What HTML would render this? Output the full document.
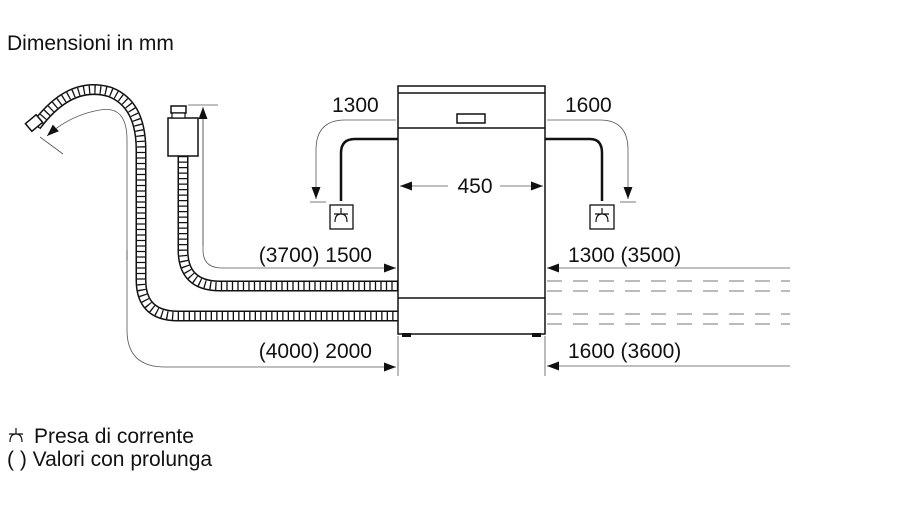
<!DOCTYPE html>
<html><head><meta charset="utf-8"><style>
html,body{margin:0;padding:0;background:#fff;}
svg{display:block;}
text{font-family:"Liberation Sans",sans-serif;fill:#111;}
</style></head><body>
<svg width="900" height="506" viewBox="0 0 900 506" xmlns="http://www.w3.org/2000/svg">
<defs>
<marker id="a" markerWidth="12" markerHeight="9" refX="12" refY="4.5" orient="auto" markerUnits="userSpaceOnUse"><path d="M0,0 L12,4.5 L0,9z" fill="#111"/></marker>
</defs>
<text x="7" y="50" font-size="21">Dimensioni in mm</text>

<g fill="none">
<path id="h1" d="M183,156 L183,250 Q183,286 220,286 L398,286"/>
<path id="h2" d="M36,126 Q70,80 110,92 Q141,104 141,150 L141,280 Q141,316 178,316 L398,316"/>
</g>
<use href="#h1" stroke="#111" stroke-width="11" fill="none"/>
<use href="#h1" stroke="#fff" stroke-width="8" fill="none"/>
<use href="#h1" stroke="#111" stroke-width="8" stroke-dasharray="1.3 4.2" fill="none"/>
<use href="#h2" stroke="#111" stroke-width="11" fill="none"/>
<use href="#h2" stroke="#fff" stroke-width="8" fill="none"/>
<use href="#h2" stroke="#111" stroke-width="8" stroke-dasharray="1.3 4.2" fill="none"/>
<rect x="27" y="118" width="14" height="10" fill="#fff" stroke="#111" stroke-width="1.5" transform="rotate(-40 34 123)"/>
<rect x="168" y="118" width="30" height="38" fill="#fff" stroke="#111" stroke-width="1.5"/>
<rect x="171" y="106" width="15" height="7" fill="#fff" stroke="#111" stroke-width="1.5"/>
<rect x="172" y="113" width="13" height="5" fill="#fff" stroke="#111" stroke-width="1.2"/>

<g stroke="#555" stroke-width="0.8" fill="none">
<line x1="188" y1="105" x2="218" y2="105"/>
<path d="M203,108 L203,250 Q203,268 222,268 L396,268" marker-end="url(#a)"/>
<path d="M203,245 L203,107" marker-end="url(#a)"/>
<line x1="40" y1="137" x2="63" y2="154"/>
<path d="M127,260 L127,140 Q127,105 100,110 Q70,115 47,136" marker-end="url(#a)"/>
<path d="M127,250 L127,330 Q127,367 165,367 L396,367" marker-end="url(#a)"/>
<line x1="398" y1="336" x2="398" y2="376"/>
<line x1="545" y1="336" x2="545" y2="376"/>
<path d="M790,268 L547,268" marker-end="url(#a)"/>
<path d="M790,366 L547,366" marker-end="url(#a)"/>
<path d="M396,120 L345,120 Q316,120 316,150 L316,199" marker-end="url(#a)"/>
<line x1="310" y1="202" x2="326" y2="202"/>
<path d="M547,120 L600,120 Q628,120 628,150 L628,199" marker-end="url(#a)"/>
<line x1="620" y1="202" x2="636" y2="202"/>
</g>
<g stroke="#777" stroke-width="1" stroke-dasharray="15 11">
<line x1="547" y1="281" x2="790" y2="281"/>
<line x1="547" y1="291" x2="790" y2="291"/>
<line x1="547" y1="314" x2="790" y2="314"/>
<line x1="547" y1="324" x2="790" y2="324"/>
</g>

<g stroke="#111" stroke-width="1.5" fill="#fff">
<rect x="398" y="86" width="147" height="248"/>
<line x1="398" y1="93" x2="545" y2="93"/>
<line x1="398" y1="128" x2="545" y2="128"/>
<line x1="398" y1="298" x2="545" y2="298"/>
<rect x="457" y="114" width="28" height="9"/>
</g>
<rect x="402" y="333" width="9" height="4" fill="#111"/>
<rect x="532" y="333" width="9" height="4" fill="#111"/>
<g stroke="#555" stroke-width="0.8" fill="none">
<path d="M448,186 L400,186" marker-end="url(#a)"/>
<path d="M500,186 L543,186" marker-end="url(#a)"/>
</g>

<g stroke="#111" stroke-width="2.5" fill="none">
<path d="M398,139 L355,139 Q341,139 341,153 L341,201"/>
<path d="M545,139 L590,139 Q602,139 602,153 L602,201"/>
</g>
<g stroke="#111" stroke-width="1.3" fill="#fff">
<rect x="330" y="205" width="23" height="24"/>
<rect x="590" y="205" width="24" height="24"/>
</g>
<g stroke="#111" stroke-width="1.2" fill="none">
<path d="M341,208 L341,214 M334,214 L348,214 M335,222 Q335,214 341,214 Q347,214 347,222"/>
<path d="M602,208 L602,214 M595,214 L609,214 M596,222 Q596,214 602,214 Q608,214 608,222"/>
</g>

<g font-size="21">
<text x="332" y="112">1300</text>
<text x="565" y="112">1600</text>
<text x="475" y="193" text-anchor="middle">450</text>
<text x="372" y="262" text-anchor="end">(3700) 1500</text>
<text x="568" y="262">1300 (3500)</text>
<text x="372" y="358" text-anchor="end">(4000) 2000</text>
<text x="568" y="358">1600 (3600)</text>
<text x="34" y="443">Presa di corrente</text>
<text x="7" y="466">( ) Valori con prolunga</text>
</g>
<g stroke="#111" stroke-width="1.2" fill="none">
<path d="M16,428 L16,434 M9,434 L23,434 M10,442 Q10,434 16,434 Q22,434 22,442"/>
</g>
</svg>
</body></html>
